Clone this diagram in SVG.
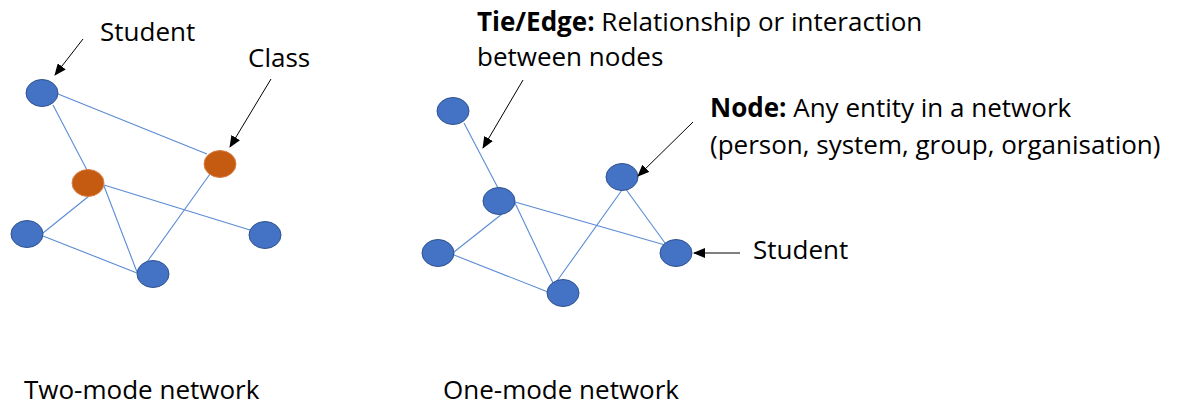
<svg xmlns="http://www.w3.org/2000/svg" width="1178" height="408" viewBox="0 0 1178 408">
  <style>
    text { font-family: "Open Sans", "Liberation Sans", sans-serif; font-size: 26px; fill: #000; }
    .b { font-weight: bold; }
    .student { fill: #4472C4; stroke: #2F528F; stroke-width: 1; }
    .cls { fill: #C55A11; stroke: #D9804A; stroke-width: 1; }
    .edge { stroke: #5B8BD5; stroke-width: 1.1; fill: none; }
    .pointer { stroke: #000; stroke-width: 1; fill: none; marker-end: url(#head); }
  </style>
  <defs>
    <marker id="head" markerWidth="12" markerHeight="10" refX="11" refY="5" orient="auto" markerUnits="userSpaceOnUse">
      <path d="M0,0 L12,5 L0,10 Z" fill="#000"/>
    </marker>
  </defs>
  <rect width="1178" height="408" fill="#fff"/>

  <!-- connectors: ties between nodes -->
  <g id="connectors">
    <!-- two-mode network -->
    <line class="edge" x1="58" y1="94" x2="207" y2="154"/>
    <line class="edge" x1="53" y1="105" x2="88" y2="172"/>
    <line class="edge" x1="104" y1="185" x2="250" y2="230"/>
    <line class="edge" x1="104" y1="186" x2="137" y2="272"/>
    <line class="edge" x1="89" y1="196" x2="43" y2="233"/>
    <line class="edge" x1="43" y1="236" x2="137" y2="273"/>
    <line class="edge" x1="210" y1="174" x2="147" y2="262"/>
    <!-- one-mode network -->
    <line class="edge" x1="464" y1="123" x2="498" y2="188"/>
    <line class="edge" x1="515" y1="202" x2="665" y2="245"/>
    <line class="edge" x1="515" y1="203" x2="553" y2="283"/>
    <line class="edge" x1="502" y1="214" x2="454" y2="252"/>
    <line class="edge" x1="454" y1="255" x2="548" y2="292"/>
    <line class="edge" x1="622" y1="190" x2="557" y2="281"/>
    <line class="edge" x1="625" y1="188" x2="665" y2="243"/>
  </g>

  <!-- two-mode network nodes -->
  <g id="tm-student-1"><ellipse class="student" cx="42" cy="93" rx="16" ry="13.5"/></g>
  <g id="tm-class-1"><ellipse class="cls" cx="220" cy="164" rx="16" ry="13.5"/></g>
  <g id="tm-class-2"><ellipse class="cls" cx="88" cy="183" rx="16" ry="13.5"/></g>
  <g id="tm-student-2"><ellipse class="student" cx="27" cy="234" rx="16" ry="13.5"/></g>
  <g id="tm-student-3"><ellipse class="student" cx="265" cy="235" rx="16" ry="13.5"/></g>
  <g id="tm-student-4"><ellipse class="student" cx="153" cy="274" rx="16" ry="13.5"/></g>

  <!-- one-mode network nodes -->
  <g id="om-node-1"><ellipse class="student" cx="453" cy="111" rx="16" ry="13.5"/></g>
  <g id="om-node-2"><ellipse class="student" cx="499" cy="201" rx="16" ry="13.5"/></g>
  <g id="om-node-3"><ellipse class="student" cx="622" cy="177" rx="16" ry="13.5"/></g>
  <g id="om-node-4"><ellipse class="student" cx="438" cy="253" rx="16" ry="13.5"/></g>
  <g id="om-node-5"><ellipse class="student" cx="676" cy="253" rx="16" ry="13.5"/></g>
  <g id="om-node-6"><ellipse class="student" cx="563" cy="293" rx="16" ry="13.5"/></g>

  <!-- annotations -->
  <g id="labels">
    <line class="pointer" x1="83" y1="39" x2="55" y2="75"/>
    <text x="100" y="41">Student</text>

    <line class="pointer" x1="271" y1="79" x2="230" y2="147"/>
    <text x="248" y="67">Class</text>

    <line class="pointer" x1="523" y1="80" x2="483" y2="148"/>
    <text x="477" y="31"><tspan class="b">Tie/Edge:</tspan> Relationship or interaction</text>
    <text x="477" y="66">between nodes</text>

    <line class="pointer" x1="693" y1="122" x2="638" y2="176"/>
    <text x="710" y="117"><tspan class="b">Node:</tspan> Any entity in a network</text>
    <text x="710" y="154">(person, system, group, organisation)</text>

    <line class="pointer" x1="740" y1="253" x2="694" y2="253"/>
    <text x="753" y="259">Student</text>

    <text x="24" y="399">Two-mode network</text>
    <text x="443" y="399">One-mode network</text>
  </g>
</svg>
